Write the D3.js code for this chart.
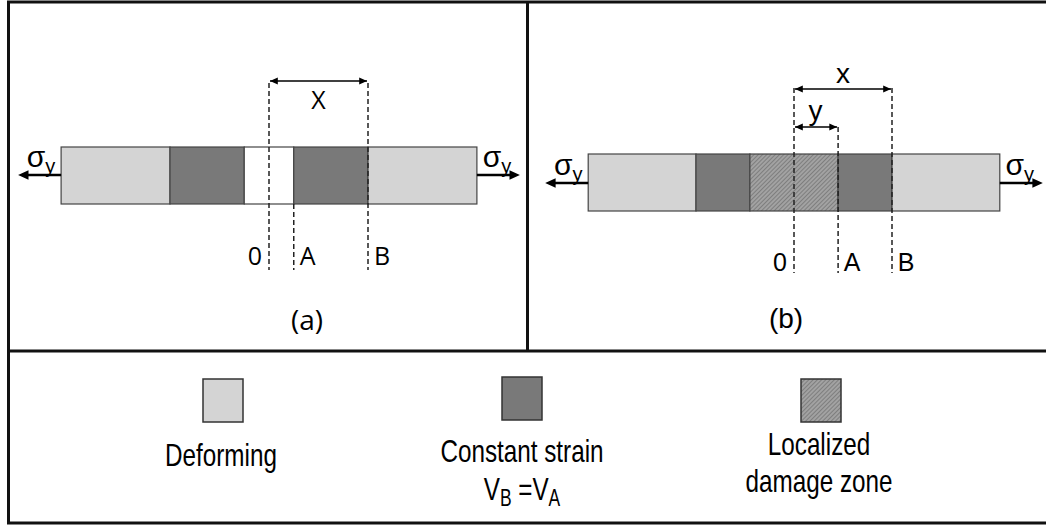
<!DOCTYPE html>
<html>
<head>
<meta charset="utf-8">
<script src="https://cdn.jsdelivr.net/npm/d3@7"></script>
<style>
  html, body { margin: 0; padding: 0; background: #fff; }
  svg { display: block; }
</style>
</head>
<body>
<div id="chart"></div>
<script>
// bar segments, in units of the distance 0 -> B
const panelA = [
  { from: -2.1, to: -1,    kind: 'deforming' },
  { from: -1,   to: -0.25, kind: 'constant' },
  { from: -0.25, to: 0.25, kind: 'void' },
  { from: 0.25, to: 1,     kind: 'constant' },
  { from: 1,    to: 2.1,   kind: 'deforming' }
];
const panelB = [
  { from: -2.1, to: -1,    kind: 'deforming' },
  { from: -1,   to: -0.45, kind: 'constant' },
  { from: -0.45, to: 0.45, kind: 'damage' },
  { from: 0.45, to: 1,     kind: 'constant' },
  { from: 1,    to: 2.1,   kind: 'deforming' }
];
const markersA = [{ name: '0', at: 0 }, { name: 'A', at: 0.25 }, { name: 'B', at: 1 }];
const markersB = [{ name: '0', at: 0 }, { name: 'A', at: 0.45 }, { name: 'B', at: 1 }];
const legendItems = [
  { kind: 'deforming', lines: ['Deforming'] },
  { kind: 'constant',  lines: ['Constant strain', 'V_B =V_A'] },
  { kind: 'damage',    lines: ['Localized', 'damage zone'] }
];

const W = 1046, H = 526;
const svg = d3.select('#chart').append('svg')
  .attr('width', W).attr('height', H)
  .attr('viewBox', [0, 0, W, H]);

const defs = svg.append('defs');
const pat = defs.append('pattern')
  .attr('id', 'hatch')
  .attr('patternUnits', 'userSpaceOnUse')
  .attr('width', 3).attr('height', 3)
  .attr('patternTransform', 'rotate(45)');
pat.append('rect').attr('width', 3).attr('height', 3).attr('fill', '#a2a2a2');
pat.append('line').attr('x1', 0).attr('y1', 0).attr('x2', 0).attr('y2', 3)
  .attr('stroke', '#6e6e6e').attr('stroke-width', 1.4);

const fills = {
  deforming: '#d4d4d4',
  constant: '#797979',
  void: '#ffffff',
  damage: 'url(#hatch)'
};

// frame
const frame = svg.append('g').attr('stroke', '#111').attr('stroke-width', 3).attr('fill', 'none');
frame.append('rect').attr('x', 8.5).attr('y', 2).attr('width', 1046).attr('height', 521);
frame.append('line').attr('x1', 8).attr('x2', W).attr('y1', 351).attr('y2', 351);
frame.append('line').attr('x1', 527.5).attr('x2', 527.5).attr('y1', 2).attr('y2', 351);

function arrowHead(g, x, y, dir, size) {
  g.append('path')
    .attr('d', `M${x},${y} L${x - dir * size * 1.3},${y - size * 0.6} L${x - dir * size * 1.3},${y + size * 0.6} Z`)
    .attr('fill', '#000');
}

function sigma(g, x, y) {
  const t = g.append('text').attr('x', x).attr('y', y)
    .attr('text-anchor', 'middle')
    .style('font-family', '"Liberation Sans", Arial, sans-serif').style('font-size', '30px');
  t.append('tspan').text('σ');
  t.append('tspan').attr('dy', 6).style('font-size', '20px').text('y');
}

function drawPanel(cfg) {
  const g = svg.append('g');
  const x = d3.scaleLinear().domain([0, 1]).range([cfg.origin, cfg.bx]);

  g.selectAll('rect.seg')
    .data(cfg.segs)
    .join('rect')
    .attr('class', 'seg')
    .attr('x', d => x(d.from))
    .attr('y', cfg.barTop)
    .attr('width', d => x(d.to) - x(d.from))
    .attr('height', cfg.barH)
    .attr('fill', d => fills[d.kind])
    .attr('stroke', '#444')
    .attr('stroke-width', 1.2);

  // dashed reference lines
  g.selectAll('line.ref')
    .data(cfg.markers)
    .join('line')
    .attr('x1', d => x(d.at)).attr('x2', d => x(d.at))
    .attr('y1', d => d.name === 'A' ? cfg.aTop : cfg.dashTop)
    .attr('y2', cfg.dashBottom)
    .attr('stroke', '#222').attr('stroke-width', 1.5)
    .attr('stroke-dasharray', '5,3');

  g.selectAll('text.mk')
    .data(cfg.markers)
    .join('text')
    .attr('x', d => x(d.at) + (d.name === '0' ? -14 : 14))
    .attr('y', cfg.markY)
    .attr('text-anchor', 'middle')
    .style('font-family', cfg.font).style('font-size', cfg.markSize)
    .text(d => d.name);

  // x dimension arrow
  const xa = x(0) + 1, xb = x(1) - 1;
  g.append('line').attr('x1', xa).attr('x2', xb).attr('y1', cfg.xArrowY).attr('y2', cfg.xArrowY)
    .attr('stroke', '#000').attr('stroke-width', 1.5);
  arrowHead(g, xa, cfg.xArrowY, -1, 6);
  arrowHead(g, xb, cfg.xArrowY, 1, 6);
  g.append('text').attr('x', x(0.5)).attr('y', cfg.xLabelY)
    .attr('text-anchor', 'middle')
    .style('font-family', cfg.font).style('font-size', cfg.xSize)
    .text(cfg.xName);

  if (cfg.yArrowY) {
    const ya = x(0) + 1, yb = x(cfg.markers[1].at) - 1;
    g.append('line').attr('x1', ya).attr('x2', yb).attr('y1', cfg.yArrowY).attr('y2', cfg.yArrowY)
      .attr('stroke', '#000').attr('stroke-width', 1.5);
    arrowHead(g, ya, cfg.yArrowY, -1, 6);
    arrowHead(g, yb, cfg.yArrowY, 1, 6);
    g.append('text').attr('x', x(0.22)).attr('y', cfg.yArrowY - 7)
      .attr('text-anchor', 'middle')
      .style('font-family', cfg.font).style('font-size', cfg.xSize)
      .text('y');
  }

  // load arrows
  const left = x(-2.1), right = x(2.1);
  const ay = cfg.loadY;
  g.append('line').attr('x1', left).attr('x2', left - 34).attr('y1', ay).attr('y2', ay)
    .attr('stroke', '#000').attr('stroke-width', 2.5);
  arrowHead(g, left - 43, ay, -1, 8);
  g.append('line').attr('x1', right).attr('x2', right + 34).attr('y1', ay).attr('y2', ay)
    .attr('stroke', '#000').attr('stroke-width', 2.5);
  arrowHead(g, right + 43, ay, 1, 8);
  sigma(g, left - 20, ay - 8);
  sigma(g, right + 20, ay - 8);

  g.append('text').attr('x', cfg.capX).attr('y', cfg.capY)
    .attr('text-anchor', 'middle')
    .style('font-family', cfg.font).style('font-size', '28px')
    .text(cfg.caption);
}

drawPanel({
  segs: panelA, markers: markersA, origin: 269, bx: 368,
  barTop: 147, barH: 57, dashTop: 83, aTop: 204, dashBottom: 270, markY: 265,
  markSize: '25px', xSize: '25px',
  xArrowY: 81, xLabelY: 109, xName: 'X', yArrowY: null, loadY: 175,
  capX: 307, capY: 330, caption: '(a)', font: '"Open Sans", Lato, sans-serif'
});
drawPanel({
  segs: panelB, markers: markersB, origin: 794, bx: 892,
  barTop: 154, barH: 57, dashTop: 88, aTop: 127, dashBottom: 273, markY: 271,
  markSize: '25px', xSize: '28px',
  xArrowY: 89, xLabelY: 83, xName: 'x', yArrowY: 127, loadY: 183,
  capX: 786, capY: 328, caption: '(b)', font: '"Liberation Sans", Arial, sans-serif'
});

// legend
const lx = d3.scalePoint().domain(legendItems.map(d => d.kind)).range([223, 821]);
const lg = svg.append('g');
lg.selectAll('rect')
  .data(legendItems)
  .join('rect')
  .attr('x', d => lx(d.kind) - 20)
  .attr('y', d => d.kind === 'constant' ? 377 : 379)
  .attr('width', 40).attr('height', 43)
  .attr('fill', d => fills[d.kind])
  .attr('stroke', '#333').attr('stroke-width', 1.5);

const textY = { deforming: [466], constant: [462, 500], damage: [455, 492] };
legendItems.forEach(item => {
  item.lines.forEach((line, i) => {
    const cy = textY[item.kind][i];
    const cx = lx(item.kind) + (item.kind === 'constant' ? 0 : -2);
    const t = lg.append('text')
      .attr('transform', `translate(${cx},${cy}) scale(0.97,1.28)`)
      .attr('text-anchor', 'middle')
      .style('font-family', '"Liberation Sans", Arial, sans-serif')
      .style('font-size', '25px');
    if (line.includes('_')) {
      t.append('tspan').text('V');
      t.append('tspan').attr('dy', 5).style('font-size', '18px').text('B');
      t.append('tspan').attr('dy', -5).text(' =V');
      t.append('tspan').attr('dy', 5).style('font-size', '18px').text('A');
    } else {
      t.text(line);
    }
  });
});
</script>
</body>
</html>
